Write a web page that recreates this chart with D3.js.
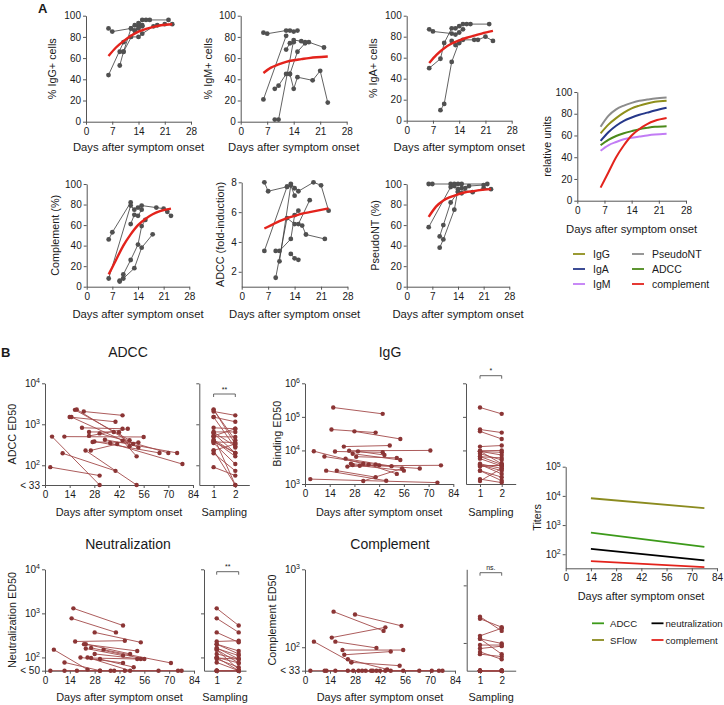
<!DOCTYPE html>
<html><head><meta charset="utf-8">
<script src="https://cdn.jsdelivr.net/npm/d3@7"></script>
<style>body{margin:0;background:#fff}</style>
</head><body><svg id="c" width="724" height="705" style="display:block"></svg>
<script>
const FONT = "'Liberation Sans', Arial, Helvetica, sans-serif";
// ---------- DATA: panel A ----------
const daysTicksA = [0, 7, 14, 21, 28];
const pctTicks = [0, 20, 40, 60, 80, 100];
const foldTicks = [2, 4, 6, 8];
const fitDays = [6, 8, 10, 12, 14, 16, 18, 20, 23];
const igGFit = [62, 70, 76, 81, 85, 87.5, 89.5, 91, 92];
const igMFit = [46, 51, 54, 56.5, 58, 59, 60, 60.8, 61.5];
const igAFit = [55, 63, 69, 73.5, 76.5, 79, 81, 83, 85.5];
const complFitA = [12, 26, 40, 51, 60, 66, 70.5, 73.5, 76];
const adccFoldFit = [4.9, 5.15, 5.4, 5.6, 5.75, 5.9, 6.0, 6.1, 6.25];
const pseudoFit = [68, 78, 84, 87.5, 90, 92, 93, 94, 95];
const adccRel = [51, 56, 59.5, 62, 64, 65.8, 67, 68, 68.6];

const igGTraj = [
 [[6,88],[7,85],[12,88],[13,86],[14,90],[15,96],[16,96],[17,96],[22,96]],
 [[6,44],[10,75],[12,80],[14,80],[15,83],[18,90],[19,91],[21,92],[23,92]],
 [[9,53],[10,66],[12,88],[13,91],[14,93],[15,91]],
 [[9,66],[10,66],[13,86],[14,88],[15,90]]
];
const igMTraj = [
 [[6,84],[7,83],[12,86],[13,86],[14,85],[15,86]],
 [[6,21],[12,81]],
 [[9,31],[10,34],[12,45],[13,45],[14,31],[15,42],[19,39],[21,48],[23,18]],
 [[9,2],[10,2],[14,77],[16,76],[17,75],[18,75],[22,70]],
 [[12,68],[13,74],[14,75]],
 [[13,45],[15,66],[17,74]]
];
const igATraj = [
 [[6,87],[7,85],[12,83],[13,82],[14,84],[15,87]],
 [[6,50],[9,59],[10,74],[12,88],[13,88],[14,90],[15,92],[16,92],[17,92],[22,92]],
 [[9,10],[10,16],[12,56],[14,75],[15,77],[18,77],[19,77],[21,80],[23,76]],
 [[12,76],[13,72],[14,74]]
];
const complTrajA = [
 [[6,46],[7,53],[12,82]],
 [[6,8],[12,79],[13,75],[14,77],[15,79],[19,77],[21,76],[22,73],[23,69]],
 [[9,5],[10,12],[12,26],[14,41],[15,59],[16,65]],
 [[9,6],[10,8],[13,18],[15,38],[18,51]],
 [[12,61],[13,70],[14,69],[15,75]]
];
const adccFoldTraj = [
 [[6,8],[7,7.4],[12,7.7],[13,7.9],[14,7.6],[15,7.4],[19,8],[21,7.8],[23,6.1]],
 [[6,3.4],[12,7.7]],
 [[9,1.6],[12,5.6],[14,5.2],[16,5.1],[17,4.5],[22,4.2]],
 [[9,3.4],[10,3.4],[13,4.2],[14,5.8],[15,6.1]],
 [[10,2.7],[13,7.8],[14,7.1]],
 [[13,3.2],[14,2.9],[15,2.8]],
 [[15,5.2],[18,6.8]]
];
const pseudoTraj = [
 [[6,100],[7,100],[12,100],[13,100],[14,100],[15,100],[22,100]],
 [[6,58],[12,97],[13,98],[14,93],[15,96],[16,96],[17,98],[21,99]],
 [[9,49],[10,60],[12,82],[14,92],[15,91]],
 [[9,38],[10,46],[13,75],[14,95],[18,92],[21,96],[23,95]]
];
const relSeries = ["IgG", "IgA", "IgM", "PseudoNT", "ADCC", "complement"];
const relColors = ["#8f8f1c", "#26388a", "#c27cf5", "#8c8c8c", "#4b8a1a", "#e3231c"];

// ---------- DATA: panel B (day1, value1, day2, value2) ----------
const daysTicksB = [0, 14, 28, 42, 56, 70, 84];
const samplingTicks = [1, 2];
const adccPairs = [
 [3,90,31,56],[4,500,31,33],[10,196,40,73],[11,500,56,490],[14,1500,40,1150],
 [15,1500,53,270],[17,2250,48,410],[18,2300,50,330],[22,2050,44,1650],[21,820,44,780],
 [25,520,47,780],[25,650,39,650],[27,370,53,360],[23,230,52,33],[26,230,41,330],
 [28,380,65,200],[31,600,70,200],[34,420,75,200],[37,350,78,107],[44,400,52,165],[42,640,48,290]
];
const igGPairs = [
 [16,190000,44,123000],[15,42000,40,34000],[28,37000,54,22000],[22,13000,48,14000],
 [5,9500,33,4000],[11,6600,40,3800],[17,9300,44,8800],[25,9800,71,10000],[27,8000,54,5200],
 [29,6500,52,6000],[3,1400,75,1100],[12,2500,46,1250],[18,2500,40,1600],[23,5700,49,3400],
 [27,3700,56,2500],[30,9400,45,7300],[26,4000,65,2900],[31,3500,77,3600],[33,1230,55,2900],
 [36,3800,52,2000],[24,3300,42,3600]
];
const neutPairs = [
 [16,1300,44,530],[15,770,40,370],[17,230,45,240],[28,370,54,220],[5,150,24,53],
 [11,77,31,50],[22,200,52,140],[23,200,48,120],[23,160,44,110],[26,165,56,92],
 [26,97,52,92],[28,120,54,92],[31,92,50,60],[33,150,71,75],[20,100,44,75],
 [3,50,39,50],[11,50,45,50],[18,50,64,50],[31,50,75,50],[37,50,77,50],[24,100,48,50]
];
const complPairs = [
 [16,286,44,162],[28,263,54,188],[15,133,45,180],[17,118,40,98],[5,118,26,64],
 [21,92,55,92],[22,80,48,88],[26,64,53,58],[24,70,46,52],[3,33,32,33],
 [11,33,40,33],[12,33,42,33],[17,33,45,33],[24,33,48,33],[27,33,55,33],
 [30,33,64,33],[34,33,71,33],[37,33,75,33],[38,33,77,33]
];
const titerDays = [14, 77];
const titerSeries = ["ADCC", "SFlow", "neutralization", "complement"];
const titerColors = ["#3c9a1a", "#8b8b1f", "#000000", "#e3231c"];
const titerValues = [[550, 178], [8300, 3800], [154, 62], [58, 36]];
const titerTicks = [100, 1000, 10000, 100000];

// ---------- helpers ----------
const svg = d3.select("#c").attr("font-family", FONT);
const AX = "#555";
function styleAxis(g) {
  g.select(".domain").attr("stroke", AX).attr("stroke-width", 1);
  g.selectAll(".tick line").attr("stroke", AX);
  g.selectAll("text").attr("fill", "#1a1a1a").attr("font-size", "10px").attr("font-family", FONT);
}
function supLabels(g, special) {
  g.selectAll(".tick text").each(function(d) {
    const t = d3.select(this); t.text(null);
    if (special && special[d] !== undefined) { t.text(special[d]); return; }
    const e = Math.round(Math.log10(d));
    t.append("tspan").text("10");
    t.append("tspan").attr("dy", "-0.55em").attr("font-size", "7px").text(e);
  });
}
function text(x, y, s, size, anchor, extra) {
  const t = svg.append("text").attr("x", x).attr("y", y).attr("font-size", size + "px")
    .attr("text-anchor", anchor || "middle").attr("fill", "#1a1a1a").text(s);
  if (extra) extra(t);
  return t;
}
function vtext(cx, cy, s, size) {
  svg.append("text").attr("transform", `translate(${cx},${cy}) rotate(-90)`)
    .attr("text-anchor", "middle").attr("font-size", size + "px").attr("fill", "#1a1a1a").text(s);
}

function drawA(o) {
  const x = d3.scaleLinear().domain([0, 28]).range([o.x0, o.x1]);
  const y = d3.scaleLinear().domain(o.yDom).range([o.yB, o.yT]);
  svg.append("g").attr("transform", `translate(0,${o.yB})`)
    .call(d3.axisBottom(x).tickValues(daysTicksA).tickFormat(d3.format("d")).tickSize(3).tickPadding(3).tickSizeOuter(0)).call(styleAxis);
  svg.append("g").attr("transform", `translate(${o.x0},0)`)
    .call(d3.axisLeft(y).tickValues(o.yTicks).tickFormat(d3.format("d")).tickSize(3).tickPadding(2).tickSizeOuter(0)).call(styleAxis);
  text((o.x0 + o.x1) / 2, o.yB + o.tdy, "Days after symptom onset", 11.3);
  vtext(o.ylx, (o.yT + o.yB) / 2, o.ylabel, 10.8);
  const line = d3.line().x(d => x(d[0])).y(d => y(d[1]));
  if (o.traj) {
    const g = svg.append("g");
    o.traj.forEach(tr => {
      g.append("path").attr("d", line(tr)).attr("fill", "none").attr("stroke", "#3a3a3a").attr("stroke-width", 0.8);
    });
    o.traj.forEach(tr => {
      g.selectAll(null).data(tr).enter().append("circle")
        .attr("cx", d => x(d[0])).attr("cy", d => y(d[1])).attr("r", 2.4).attr("fill", "#505050");
    });
  }
  const curve = d3.line().x((d, i) => x(fitDays[i])).y(d => y(d)).curve(d3.curveMonotoneX);
  (o.fits || []).forEach(f => {
    svg.append("path").attr("d", curve(f.v)).attr("fill", "none").attr("stroke", f.c).attr("stroke-width", f.w || 2.4);
  });
}

// Panel label A
text(38, 13, "A", 13, "start", t => t.attr("font-weight", "bold"));
drawA({x0: 86, x1: 191, yT: 15.7, yB: 121.7, yDom: [0, 100], yTicks: pctTicks, ylabel: "% IgG+ cells", ylx: 56, tdy: 29.5, traj: igGTraj, fits: [{v: igGFit, c: "#e3231c"}]});
drawA({x0: 240.7, x1: 346.7, yT: 15.7, yB: 121.7, yDom: [0, 100], yTicks: pctTicks, ylabel: "% IgM+ cells", ylx: 212, tdy: 29.5, traj: igMTraj, fits: [{v: igMFit, c: "#e3231c"}]});
drawA({x0: 406.7, x1: 511.7, yT: 15.7, yB: 120.7, yDom: [0, 100], yTicks: pctTicks, ylabel: "% IgA+ cells", ylx: 377, tdy: 30, traj: igATraj, fits: [{v: igAFit, c: "#e3231c"}]});
drawA({x0: 86.7, x1: 189.3, yT: 184, yB: 286.7, yDom: [0, 100], yTicks: pctTicks, ylabel: "Complement (%)", ylx: 59, tdy: 31.5, traj: complTrajA, fits: [{v: complFitA, c: "#e3231c"}]});
drawA({x0: 241.7, x1: 347.5, yT: 182.3, yB: 286.7, yDom: [1, 8], yTicks: foldTicks, ylabel: "ADCC (fold-induction)", ylx: 224, tdy: 31.5, traj: adccFoldTraj, fits: [{v: adccFoldFit, c: "#e3231c"}]});
drawA({x0: 406.7, x1: 509.3, yT: 184, yB: 286.7, yDom: [0, 100], yTicks: pctTicks, ylabel: "PseudoNT (%)", ylx: 379, tdy: 31.5, traj: pseudoTraj, fits: [{v: pseudoFit, c: "#e3231c"}]});
const relVals = [igGFit, igAFit, igMFit, pseudoFit, adccRel, complFitA];
const relOrder = [3, 0, 1, 4, 2, 5];
drawA({x0: 577.3, x1: 686, yT: 92, yB: 200.7, yDom: [0, 100], yTicks: pctTicks, ylabel: "relative units", ylx: 551, tdy: 32,
  fits: relOrder.map(i => ({v: relVals[i], c: relColors[i], w: 2}))});
// legend A
relSeries.forEach((s, i) => {
  const col = Math.floor(i / 3), row = i % 3;
  const lx = col === 0 ? 573 : 632, ly = 254 + row * 15;
  svg.append("line").attr("x1", lx).attr("x2", lx + 12).attr("y1", ly).attr("y2", ly).attr("stroke", relColors[i]).attr("stroke-width", 1.8);
  text(lx + 20, ly + 4, s, 10.5, "start");
});

// ---------- Panel B ----------
text(1, 357, "B", 13, "start", t => t.attr("font-weight", "bold"));
const PT = "#8b3535", LN = "#a34a4a";
function drawB(o) {
  const x = d3.scaleLinear().domain([0, 84]).range([o.x0, o.x1]);
  const y = d3.scaleLog().domain(o.yDom).range([o.yB, o.yT]).clamp(true);
  svg.append("g").attr("transform", `translate(0,${o.yB})`)
    .call(d3.axisBottom(x).tickValues(daysTicksB).tickFormat(d3.format("d")).tickSize(3).tickPadding(3).tickSizeOuter(0)).call(styleAxis);
  svg.append("g").attr("transform", `translate(${o.x0},0)`)
    .call(d3.axisLeft(y).tickValues(o.yTicks).tickSize(3).tickPadding(2).tickSizeOuter(0)).call(styleAxis)
    .call(g => supLabels(g, o.special));
  text((o.x0 + o.x1) / 2, o.yB + o.tdy, "Days after symptom onset", 10.9);
  vtext(o.ylx, (o.yT + o.yB) / 2, o.ylabel, 10.8);
  text(o.titleX, o.titleY, o.title, 14);
  const g = svg.append("g");
  o.pairs.forEach(p => g.append("line").attr("x1", x(p[0])).attr("y1", y(p[1])).attr("x2", x(p[2])).attr("y2", y(p[3])).attr("stroke", LN).attr("stroke-width", 0.9));
  o.pairs.forEach(p => {
    g.append("circle").attr("cx", x(p[0])).attr("cy", y(p[1])).attr("r", 2.2).attr("fill", PT);
    g.append("circle").attr("cx", x(p[2])).attr("cy", y(p[3])).attr("r", 2.2).attr("fill", PT);
  });
  // sampling panel
  const xs0 = d3.scaleLinear().domain([1, 2]).range([o.s1, o.s2]);
  const xs = d3.scaleLinear().domain([xs0.invert(o.sx0), xs0.invert(o.sx1)]).range([o.sx0, o.sx1]);
  const ys = o.sDom ? d3.scaleLog().domain(o.sDom).range([o.yB, o.yT]).clamp(true) : y;
  svg.append("g").attr("transform", `translate(0,${o.yB})`)
    .call(d3.axisBottom(xs).tickValues(samplingTicks).tickFormat(d3.format("d")).tickSize(3).tickPadding(3).tickSizeOuter(0)).call(styleAxis);
  svg.append("g").attr("transform", `translate(${o.sx0},0)`)
    .call(d3.axisLeft(ys).tickValues(o.sTicks || o.yTicks.slice(1)).tickSize(3).tickSizeOuter(0).tickFormat("")).call(styleAxis);
  text((o.sx0 + o.sx1) / 2, o.yB + o.tdy, "Sampling", 10.9);
  const gs = svg.append("g");
  o.pairs.forEach(p => gs.append("line").attr("x1", xs(1)).attr("y1", ys(p[1])).attr("x2", xs(2)).attr("y2", ys(p[3])).attr("stroke", LN).attr("stroke-width", 0.9));
  o.pairs.forEach(p => {
    gs.append("circle").attr("cx", xs(1)).attr("cy", ys(p[1])).attr("r", 2.2).attr("fill", PT);
    gs.append("circle").attr("cx", xs(2)).attr("cy", ys(p[3])).attr("r", 2.2).attr("fill", PT);
  });
  // significance bracket
  const by = o.brY;
  svg.append("path").attr("d", `M${xs(1)},${by + 3}V${by}H${xs(2)}V${by + 3}`).attr("fill", "none").attr("stroke", AX).attr("stroke-width", 0.9);
  text((xs(1) + xs(2)) / 2, by - 2.5, o.sig, 7);
}
drawB({x0: 45, x1: 193, yT: 383.3, yB: 485, yDom: [33, 10000], yTicks: [33, 100, 1000, 10000], special: {33: "< 33"},
  ylabel: "ADCC ED50", ylx: 16, tdy: 30.5, title: "ADCC", titleX: 128, titleY: 356.5, pairs: adccPairs,
  sx0: 199.3, sx1: 249.3, s1: 213.6, s2: 235.3, brY: 394, sig: "**"});
drawB({x0: 305, x1: 453.3, yT: 383.3, yB: 484, yDom: [1000, 1000000], yTicks: [1000, 10000, 100000, 1000000],
  ylabel: "Binding ED50", ylx: 281, tdy: 31.5, title: "IgG", titleX: 390, titleY: 356.5, pairs: igGPairs,
  sx0: 466, sx1: 515.7, s1: 480, s2: 501.7, brY: 375.7, sig: "*"});
drawB({x0: 45, x1: 194, yT: 569.3, yB: 670.7, yDom: [50, 10000], yTicks: [50, 100, 1000, 10000], special: {50: "< 50"},
  ylabel: "Neutralization ED50", ylx: 16, tdy: 30, title: "Neutralization", titleX: 128, titleY: 549, pairs: neutPairs,
  sx0: 204, sx1: 246, s1: 216.7, s2: 238.7, brY: 571.7, sig: "**"});
drawB({x0: 305, x1: 455, yT: 569.3, yB: 670.7, yDom: [50, 1000], yTicks: [50, 100, 1000], special: {50: "< 33"},
  ylabel: "Complement ED50", ylx: 276, tdy: 30, title: "Complement", titleX: 390, titleY: 549, pairs: complPairs,
  sx0: 466.7, sx1: 515.7, s1: 480, s2: 501.7, brY: 572.7, sig: "ns.", sDom: [33, 1900], sTicks: [100, 1000]});

// Titers chart
(function() {
  const x = d3.scaleLinear().domain([0, 84]).range([565.7, 717]);
  const y = d3.scaleLog().domain([33, 100000]).range([568.3, 466.7]);
  svg.append("g").attr("transform", `translate(0,568.3)`)
    .call(d3.axisBottom(x).tickValues(daysTicksB).tickFormat(d3.format("d")).tickSize(3).tickPadding(3).tickSizeOuter(0)).call(styleAxis);
  svg.append("g").attr("transform", `translate(565.7,0)`)
    .call(d3.axisLeft(y).tickValues(titerTicks).tickSize(3).tickPadding(2).tickSizeOuter(0)).call(styleAxis)
    .call(g => supLabels(g));
  text(641, 599.5, "Days after symptom onset", 10.9);
  vtext(541, 517.5, "Titers", 10.8);
  const line = d3.line().x((d, i) => x(titerDays[i])).y(d => y(d));
  titerValues.forEach((v, i) => svg.append("path").attr("d", line(v)).attr("fill", "none").attr("stroke", titerColors[i]).attr("stroke-width", 1.8));
  titerSeries.forEach((s, i) => {
    const col = i < 2 ? 0 : 1, row = i % 2;
    const lx = col === 0 ? 592 : 651.5, ly = 623.3 + row * 16.7;
    svg.append("line").attr("x1", lx).attr("x2", lx + 12).attr("y1", ly).attr("y2", ly).attr("stroke", titerColors[i]).attr("stroke-width", 1.8);
    text(lx + (col === 0 ? 18 : 14), ly + 3.5, s, 9.6, "start");
  });
})();
</script></body></html>
